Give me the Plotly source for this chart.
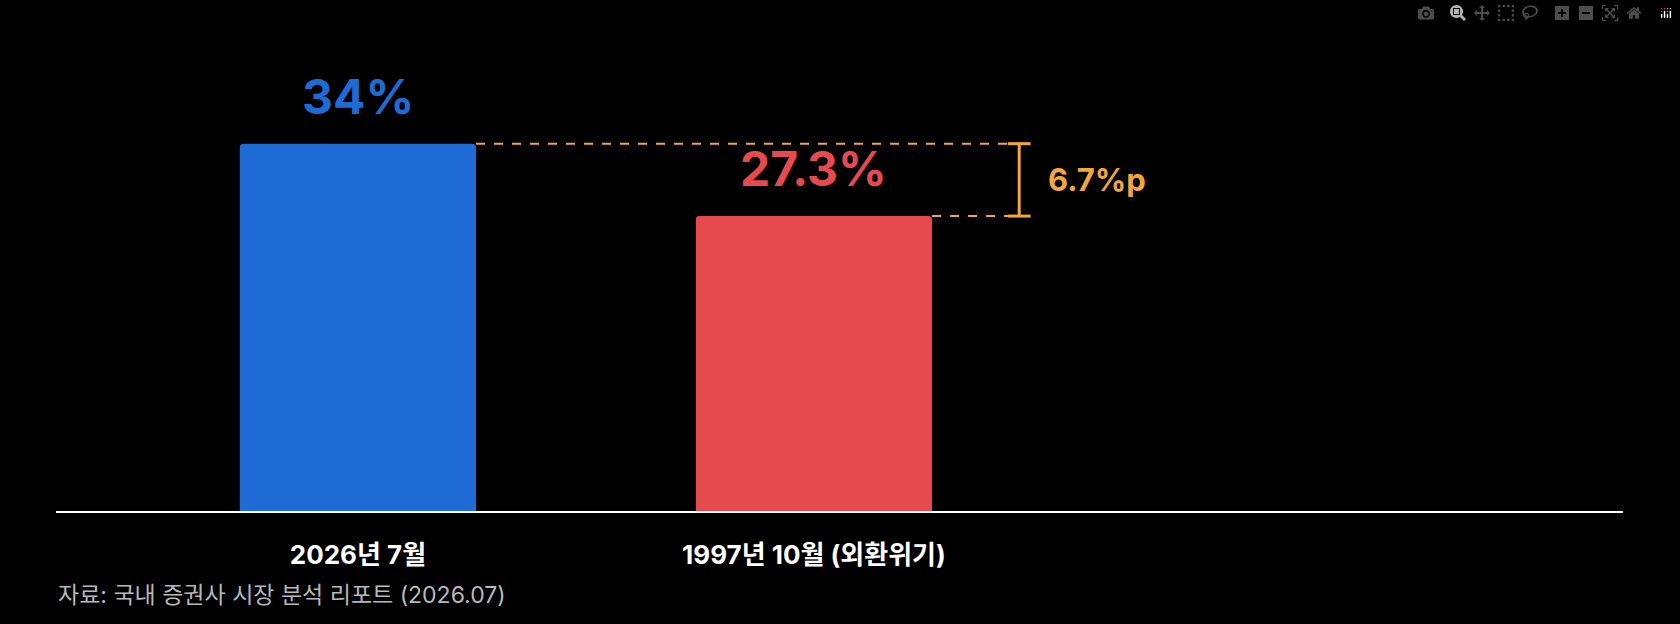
import plotly.graph_objects as go

categories = ["2026년 7월", "1997년 10월 (외환위기)"]
values = [34, 27.3]
colors = ["#1F6BD6", "#E64A4F"]
labels = ["34%", "27.3%"]
gap_label = "6.7%p"
source = "자료: 국내 증권사 시장 분석 리포트 (2026.07)"

orange = "#F2A73B"
font = "Inter, Noto Sans CJK KR"
xs = [0, 1]
bw = 0.518

fig = go.Figure()
fig.add_trace(go.Bar(x=xs, y=values, width=bw,
                     marker=dict(color=colors, cornerradius=4, line=dict(width=0)),
                     hoverinfo="skip"))

# value labels
for x, v, lab, c in zip(xs, values, labels, colors):
    fig.add_annotation(x=x, y=v, text=f"<b>{lab}</b>", showarrow=False, yanchor="bottom",
                       yshift=16, font=dict(size=48, color=c, family=font))

# gap guides
xend = 1.465
fig.add_shape(type="line", x0=xs[0] + bw / 2, x1=xend, y0=values[0], y1=values[0],
              line=dict(color=orange, width=2, dash="dash"))
fig.add_shape(type="line", x0=xs[1] + bw / 2, x1=xend, y0=values[1], y1=values[1],
              line=dict(color=orange, width=2, dash="dash"))
xb = 1.45
fig.add_shape(type="line", x0=xb, x1=xb, y0=values[1], y1=values[0],
              line=dict(color=orange, width=3))
for v in values:
    fig.add_shape(type="line", x0=xb - 0.025, x1=xb + 0.025, y0=v, y1=v,
                  line=dict(color=orange, width=3))
fig.add_annotation(x=xb + 0.058, y=(values[0] + values[1]) / 2, text=f"<b>{gap_label}</b>",
                   showarrow=False, xanchor="left", font=dict(size=31, color=orange, family=font))

fig.add_annotation(xref="paper", yref="paper", x=0, y=-0.165, xanchor="left", yanchor="middle",
                   text=source, showarrow=False, font=dict(size=23, color="#B8B8B8", family=font))

fig.update_layout(
    width=1680, height=624,
    paper_bgcolor="black", plot_bgcolor="black",
    margin=dict(l=56, r=57, t=0, b=113),
    showlegend=False,
    xaxis=dict(range=[-0.662, 2.774], tickvals=xs, ticktext=[f"<b>{c}</b>" for c in categories],
               tickfont=dict(size=26, color="white", family=font), ticks="outside",
               ticklen=20, tickcolor="black", showline=True, linecolor="white", linewidth=2,
               showgrid=False, zeroline=False),
    yaxis=dict(range=[0, 47.3], visible=False),
)

fig.write_html("out.html", post_script="document.body.style.margin='0';document.body.style.background='black';")
